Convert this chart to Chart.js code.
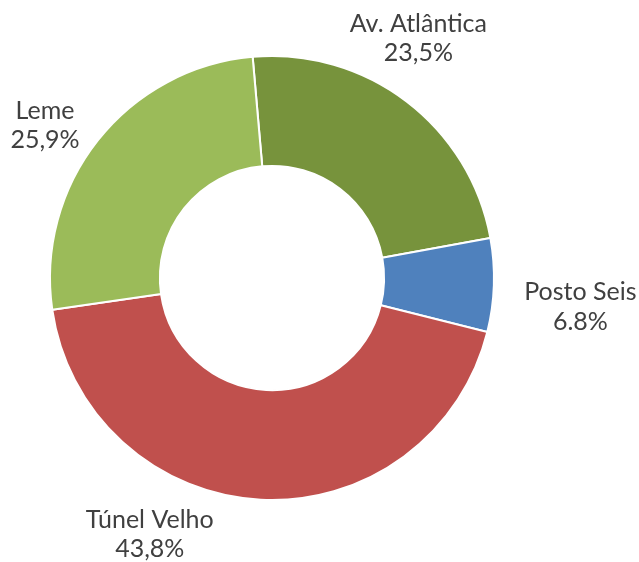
<!DOCTYPE html>
<html>
<head>
<meta charset="utf-8">
<script src="https://cdn.jsdelivr.net/npm/chart.js@4"></script>
<style>
  html, body { margin: 0; padding: 0; background: #ffffff; }
  #wrap { width: 639px; height: 562px; }
</style>
</head>
<body>
<div id="wrap"><canvas id="graficoRosca" width="639" height="562"></canvas></div>
<script>
// Dados
const locais = ["Av. Atlântica", "Posto Seis", "Túnel Velho", "Leme"];
const percentuais = [23.5, 6.8, 43.8, 25.9];
const rotulosValor = ["23,5%", "6.8%", "43,8%", "25,9%"];
const cores = ["#77933C", "#4F81BD", "#C0504D", "#9BBB59"];

// Ajuste de posição dos rótulos (graus a partir do meio da fatia, fator do raio)
const desvioAngulo = [-5.9, 3.5, 22.6, -4.4];
const fatorRaio = [1.265, 1.395, 1.278, 1.233];

const rotulosExternos = {
  id: "rotulosExternos",
  afterDatasetsDraw(chart) {
    const ctx = chart.ctx;
    const arcos = chart.getDatasetMeta(0).data;
    ctx.save();
    ctx.fillStyle = "#404040";
    ctx.font = "25px Lato, 'Open Sans', sans-serif";
    ctx.textAlign = "center";
    ctx.textBaseline = "middle";
    arcos.forEach(function (arco, i) {
      const p = arco.getProps(["x", "y", "startAngle", "endAngle", "outerRadius"], true);
      const a = (p.startAngle + p.endAngle) / 2 + desvioAngulo[i] * Math.PI / 180;
      const d = p.outerRadius * fatorRaio[i];
      const x = p.x + Math.cos(a) * d;
      const y = p.y + Math.sin(a) * d;
      ctx.fillText(locais[i], x, y - 14.5);
      ctx.fillText(rotulosValor[i], x, y + 15);
    });
    ctx.restore();
  }
};

const ctx = document.getElementById("graficoRosca").getContext("2d");
new Chart(ctx, {
  type: "doughnut",
  data: {
    labels: locais,
    datasets: [{
      data: percentuais,
      backgroundColor: cores,
      borderColor: "#ffffff",
      borderWidth: 2,
      hoverOffset: 0
    }]
  },
  options: {
    responsive: false,
    animation: false,
    cutout: "50.5%",
    rotation: -5,
    layout: { padding: { left: 49, top: 55, right: 144, bottom: 61 } },
    plugins: {
      legend: { display: false },
      tooltip: { enabled: false }
    }
  },
  plugins: [rotulosExternos]
});
</script>
</body>
</html>
